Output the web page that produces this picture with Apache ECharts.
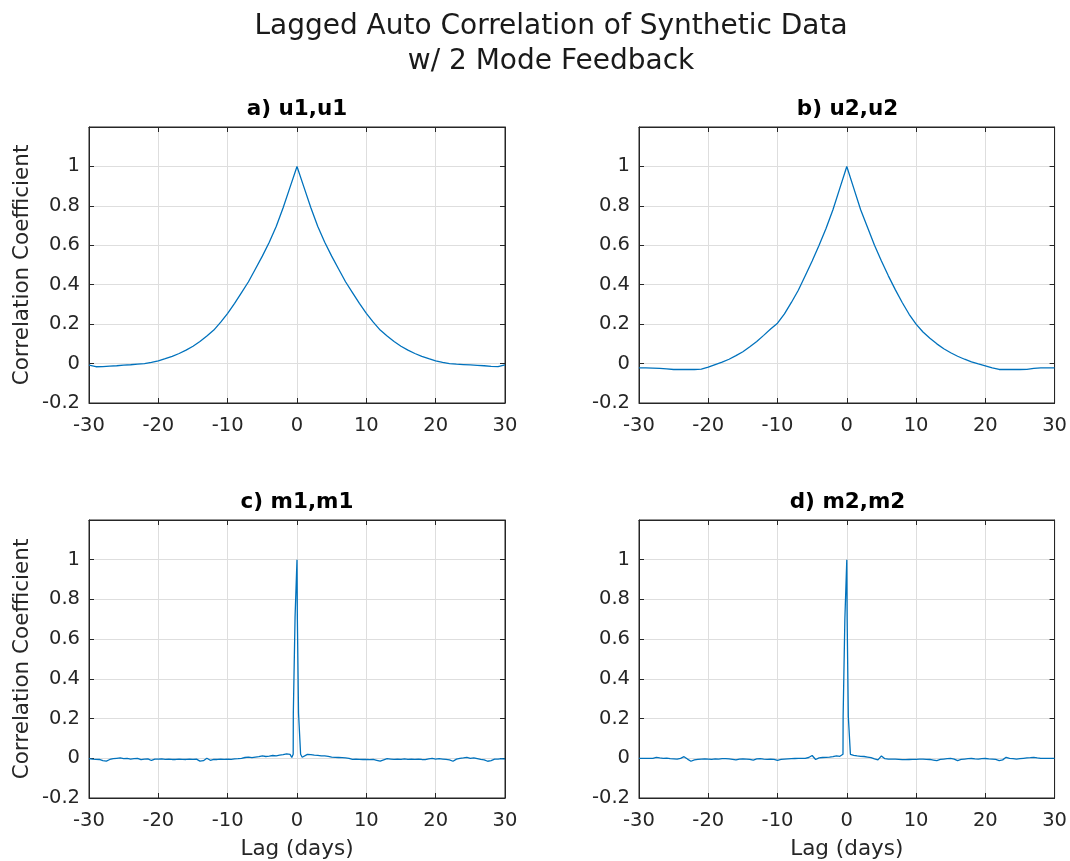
<!DOCTYPE html>
<html>
<head>
<meta charset="utf-8">
<title>Lagged Auto Correlation of Synthetic Data</title>
<script src="https://cdn.jsdelivr.net/npm/echarts@6/dist/echarts.min.js"></script>
<style>
  html, body { margin: 0; padding: 0; background: #ffffff; }
  #chart { width: 1070px; height: 861px; }
</style>
</head>
<body>
<div id="chart"></div>
<script>
// ---- data -------------------------------------------------------------
// daily lags, -30 ... 30 days
const lagDays = Array.from({ length: 61 }, (_, i) => i - 30);

// u1,u1 autocorrelation at each daily lag
const u1Corr = [
  -0.008, -0.016, -0.015, -0.013, -0.011, -0.008, -0.006, -0.003,  0.000,  0.006,
   0.014,  0.025,  0.037,  0.051,  0.068,  0.088,  0.112,  0.140,  0.170,  0.210,
   0.255,  0.305,  0.360,  0.415,  0.480,  0.545,  0.615,  0.695,  0.790,  0.895,
   1.000,
   0.895,  0.790,  0.695,  0.615,  0.545,  0.480,  0.415,  0.360,  0.305,  0.255,
   0.210,  0.170,  0.140,  0.112,  0.088,  0.068,  0.051,  0.037,  0.025,  0.014,
   0.006,  0.000, -0.003, -0.005, -0.007, -0.009, -0.011, -0.014, -0.016, -0.006
];

// u2,u2 autocorrelation at each daily lag
const u2Corr = [
  -0.022, -0.022, -0.023, -0.024, -0.027, -0.030, -0.030, -0.030, -0.030, -0.028,
  -0.018, -0.005,  0.007,  0.022,  0.040,  0.060,  0.085,  0.112,  0.143,  0.175,
   0.205,  0.252,  0.310,  0.372,  0.445,  0.520,  0.600,  0.685,  0.780,  0.890,
   1.000,
   0.890,  0.780,  0.690,  0.600,  0.520,  0.445,  0.375,  0.310,  0.250,  0.200,
   0.160,  0.128,  0.100,  0.075,  0.055,  0.037,  0.022,  0.009, -0.002, -0.012,
  -0.022, -0.030, -0.030, -0.030, -0.030, -0.029, -0.024, -0.022, -0.022, -0.022
];

// half-day lags away from zero: -30 ... -1 and 1 ... 30
const halfDayLeft = Array.from({ length: 59 }, (_, i) => -30 + i * 0.5);
const halfDayRight = Array.from({ length: 59 }, (_, i) => 1 + i * 0.5);
// finely resolved lags around zero
const centreLag = [-0.75, -0.55, -0.53, -0.3, -0.28, -0.05, 0, 0.05, 0.2, 0.22, 0.5, 0.52, 0.75];

// m1,m1 autocorrelation
const m1Left = [
  -0.002, -0.004, -0.005, -0.006, -0.012, -0.014, -0.006, -0.002,  0.000,  0.002,
  -0.002,  0.000, -0.004, -0.002,  0.000, -0.007, -0.004, -0.003, -0.011, -0.004,
  -0.004, -0.003, -0.005, -0.004, -0.006, -0.006, -0.004, -0.005, -0.006, -0.004,
  -0.005, -0.004, -0.014, -0.012,  0.000, -0.010, -0.005, -0.006, -0.004, -0.005,
  -0.004, -0.005, -0.003, -0.002,  0.000,  0.004,  0.006,  0.003,  0.006,  0.008,
   0.012,  0.009,  0.011,  0.014,  0.012,  0.016,  0.018,  0.022,  0.020
];
const m1Centre = [0.004, 0.020, 0.228, 0.228, 0.710, 0.710, 1.000, 0.710, 0.710, 0.228, 0.228, 0.020, 0.005];
const m1Right = [
   0.012,  0.020,  0.018,  0.016,  0.015,  0.012,  0.012,  0.010,  0.006,  0.005,
   0.004,  0.003,  0.002,  0.000, -0.005, -0.004, -0.005, -0.006, -0.005, -0.007,
  -0.006, -0.010, -0.014, -0.008, -0.002, -0.004, -0.006, -0.004, -0.005, -0.003,
  -0.006, -0.004, -0.005, -0.004, -0.006, -0.007, -0.003,  0.000, -0.004, -0.002,
  -0.004, -0.006, -0.008, -0.015, -0.004,  0.000,  0.002,  0.005,  0.000,  0.002,
  -0.002, -0.006, -0.008, -0.015, -0.012, -0.004, -0.004, -0.002, -0.004
];

// m2,m2 autocorrelation
const m2Left = [
   0.000,  0.000,  0.000,  0.000,  0.000,  0.005,  0.002,  0.000,  0.001, -0.002,
  -0.003, -0.004,  0.000,  0.008, -0.004, -0.015, -0.008, -0.005, -0.004, -0.003,
  -0.004, -0.005, -0.003, -0.004, -0.002, -0.002, -0.003, -0.005, -0.008, -0.004,
  -0.003, -0.004, -0.005, -0.009, -0.003, -0.002, -0.004, -0.005, -0.004, -0.005,
  -0.010, -0.006, -0.004, -0.003, -0.002, -0.001,  0.000,  0.000,  0.000,  0.004,
   0.014, -0.006,  0.002,  0.004,  0.005,  0.006,  0.008,  0.012,  0.010
];
const m2Centre = [0.018, 0.020, 0.210, 0.210, 0.700, 0.700, 1.000, 0.700, 0.700, 0.210, 0.210, 0.020, 0.022];
const m2Right = [
   0.015,  0.012,  0.010,  0.009,  0.006,  0.003, -0.003, -0.008,  0.012, -0.002,
  -0.004, -0.004, -0.004, -0.005, -0.007, -0.007, -0.006, -0.005, -0.005, -0.004,
  -0.004, -0.005, -0.006, -0.009, -0.012, -0.006, -0.004, -0.002, -0.001, -0.004,
  -0.012, -0.006, -0.004, -0.002, -0.001, -0.003, -0.004, -0.002, -0.001, -0.003,
  -0.004, -0.006, -0.012, -0.008,  0.005,  0.000, -0.002, -0.004, -0.002,  0.000,
   0.002,  0.003,  0.005,  0.002,  0.000,  0.000,  0.000,  0.000,  0.000
];

// axis ticks
const xTicks = [-30, -20, -10, 0, 10, 20, 30];
const yTicks = [-0.2, 0, 0.2, 0.4, 0.6, 0.8, 1];

// ---- chart ------------------------------------------------------------
const FONT = 'DejaVu Sans';
const INK = '#262626';
const GRID = '#dedede';
const LINE = '#0072BD';

const pairs = (xs, ys) => xs.map((x, i) => [x, ys[i]]);
const joinedLag = halfDayLeft.concat(centreLag, halfDayRight);

const panels = [
  { title: 'a) u1,u1', data: pairs(lagDays, u1Corr), left: 89, top: 127, width: 416, height: 276, yName: true, xName: false },
  { title: 'b) u2,u2', data: pairs(lagDays, u2Corr), left: 639, top: 127, width: 417, height: 276, yName: false, xName: false },
  { title: 'c) m1,m1', data: pairs(joinedLag, m1Left.concat(m1Centre, m1Right)), left: 89, top: 520, width: 416, height: 278, yName: true, xName: true },
  { title: 'd) m2,m2', data: pairs(joinedLag, m2Left.concat(m2Centre, m2Right)), left: 639, top: 520, width: 417, height: 278, yName: false, xName: true }
];

const xMin = xTicks[0], xMax = xTicks[xTicks.length - 1], xStep = xTicks[1] - xTicks[0];
const yStep = 0.2, yMin = yTicks[0], yMax = 1.2;
const yLabel = v => (v > yTicks[yTicks.length - 1] + 0.05 ? '' : String(Math.round(v * 10) / 10));

const tickFont = { color: INK, fontFamily: FONT, fontSize: 19.5 };
const nameFont = { color: INK, fontFamily: FONT, fontSize: 21.5 };
const frame = { show: true, onZero: false, lineStyle: { color: INK, width: 1 } };
const inTick = { show: true, inside: true, length: 5, lineStyle: { color: INK } };

const option = {
  animation: false,
  backgroundColor: '#ffffff',
  title: [
    {
      text: 'Lagged Auto Correlation of Synthetic Data\nw/ 2 Mode Feedback',
      left: 551, top: 9, textAlign: 'center', padding: 0,
      textStyle: { fontFamily: FONT, fontSize: 28, fontWeight: 'normal', color: '#1a1a1a', lineHeight: 35 }
    }
  ].concat(panels.map(p => ({
    text: p.title,
    left: p.left + p.width / 2, top: p.top - 29, textAlign: 'center', padding: 0,
    textStyle: { fontFamily: FONT, fontSize: 21.5, fontWeight: 'bold', color: '#000000' }
  }))),
  grid: panels.map(p => ({
    left: p.left, top: p.top, width: p.width, height: p.height,
    show: true, borderColor: INK, borderWidth: 1, backgroundColor: '#ffffff',
    containLabel: false
  })),
  xAxis: [],
  yAxis: [],
  series: []
};

panels.forEach((p, i) => {
  option.xAxis.push({
    gridIndex: i, type: 'value', position: 'bottom',
    min: xMin, max: xMax, interval: xStep,
    axisLine: frame, axisTick: inTick,
    axisLabel: Object.assign({ margin: 13 }, tickFont),
    splitLine: { show: true, lineStyle: { color: GRID, width: 1 } },
    name: p.xName ? 'Lag (days)' : '',
    nameLocation: 'middle', nameGap: 40, nameTextStyle: nameFont
  });
  option.xAxis.push({
    gridIndex: i, type: 'value', position: 'top',
    min: xMin, max: xMax, interval: xStep,
    axisLine: frame, axisTick: inTick,
    axisLabel: { show: false },
    splitLine: { show: false }
  });
  option.yAxis.push({
    gridIndex: i, type: 'value', position: 'left',
    min: yMin, max: yMax, interval: yStep,
    axisLine: frame, axisTick: inTick,
    axisLabel: Object.assign({ margin: 9, formatter: yLabel }, tickFont),
    splitLine: { show: true, lineStyle: { color: GRID, width: 1 } },
    name: p.yName ? 'Correlation Coefficient' : '',
    nameLocation: 'middle', nameRotate: 90, nameGap: 56, nameTextStyle: nameFont
  });
  option.yAxis.push({
    gridIndex: i, type: 'value', position: 'right',
    min: yMin, max: yMax, interval: yStep,
    axisLine: frame, axisTick: inTick,
    axisLabel: { show: false },
    splitLine: { show: false }
  });
  option.series.push({
    type: 'line',
    xAxisIndex: 2 * i, yAxisIndex: 2 * i,
    data: p.data,
    showSymbol: false,
    clip: true,
    lineStyle: { color: LINE, width: 1.3 },
    emphasis: { disabled: true }
  });
});

const chart = echarts.init(document.getElementById('chart'), null, { renderer: 'canvas' });
chart.setOption(option);
</script>
</body>
</html>
